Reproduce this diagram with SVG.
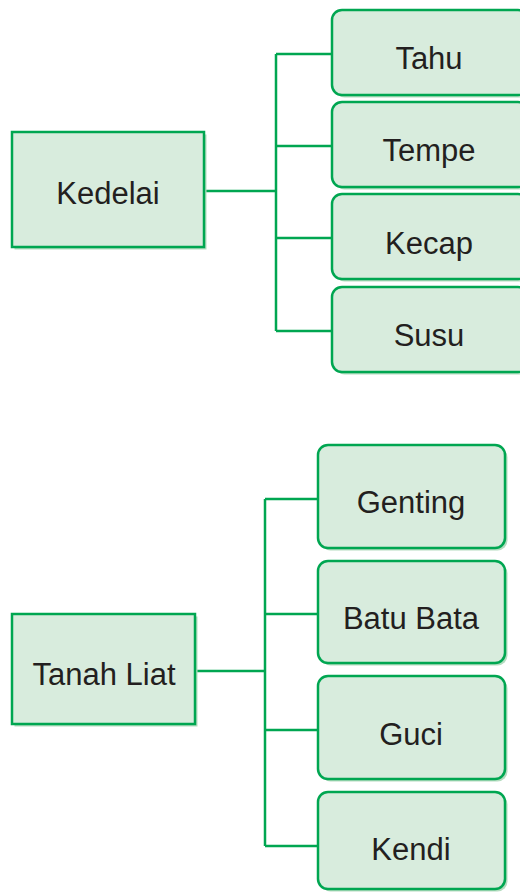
<svg xmlns="http://www.w3.org/2000/svg" width="520" height="893" viewBox="0 0 520 893">
<style>
.box{fill:#d8ecdd;stroke:#00a651;stroke-width:2.5}
.sh{fill:#b5dcc0;stroke:none}
.lbl{font-family:"Liberation Sans",Arial,sans-serif;font-size:31px;fill:#231f20;text-anchor:middle}
.con{fill:none;stroke:#00a651;stroke-width:2.5}
</style>
<g id="connectors">
<path class="con" d="M204 191 H276 M276 54 V331 M276 54 H332 M276 146 H332 M276 238 H332 M276 331 H332"/>
<path class="con" d="M195 671 H265 M265 499 V846 M265 499 H318 M265 614 H318 M265 730 H318 M265 846 H318"/>
</g>
<g id="kedelai">
<rect class="sh" x="14.5" y="134.5" width="192" height="115"/>
<rect class="box" x="12" y="132" width="192" height="115"/>
<text class="lbl" x="108" y="204">Kedelai</text>
</g>
<g id="tahu">
<rect class="sh" x="334.5" y="12.5" width="196" height="85" rx="10"/>
<rect class="box" x="332" y="10" width="196" height="85" rx="10"/>
<text class="lbl" x="429" y="69">Tahu</text>
</g>
<g id="tempe">
<rect class="sh" x="334.5" y="104.5" width="196" height="85" rx="10"/>
<rect class="box" x="332" y="102" width="196" height="85" rx="10"/>
<text class="lbl" x="429" y="161">Tempe</text>
</g>
<g id="kecap">
<rect class="sh" x="334.5" y="196.5" width="196" height="85" rx="10"/>
<rect class="box" x="332" y="194" width="196" height="85" rx="10"/>
<text class="lbl" x="429" y="254">Kecap</text>
</g>
<g id="susu">
<rect class="sh" x="334.5" y="289.5" width="196" height="85" rx="10"/>
<rect class="box" x="332" y="287" width="196" height="85" rx="10"/>
<text class="lbl" x="429" y="346">Susu</text>
</g>
<g id="tanah-liat">
<rect class="sh" x="14.5" y="616.5" width="183" height="110"/>
<rect class="box" x="12" y="614" width="183" height="110"/>
<text class="lbl" x="104" y="685">Tanah Liat</text>
</g>
<g id="genting">
<rect class="sh" x="320.5" y="447.5" width="187" height="103" rx="10"/>
<rect class="box" x="318" y="445" width="187" height="103" rx="10"/>
<text class="lbl" x="411" y="513">Genting</text>
</g>
<g id="batu-bata">
<rect class="sh" x="320.5" y="563.5" width="187" height="102" rx="10"/>
<rect class="box" x="318" y="561" width="187" height="102" rx="10"/>
<text class="lbl" x="411" y="629">Batu Bata</text>
</g>
<g id="guci">
<rect class="sh" x="320.5" y="678.5" width="187" height="103" rx="10"/>
<rect class="box" x="318" y="676" width="187" height="103" rx="10"/>
<text class="lbl" x="411" y="745">Guci</text>
</g>
<g id="kendi">
<rect class="sh" x="320.5" y="794.5" width="187" height="97" rx="10"/>
<rect class="box" x="318" y="792" width="187" height="97" rx="10"/>
<text class="lbl" x="411" y="860">Kendi</text>
</g>
</svg>
